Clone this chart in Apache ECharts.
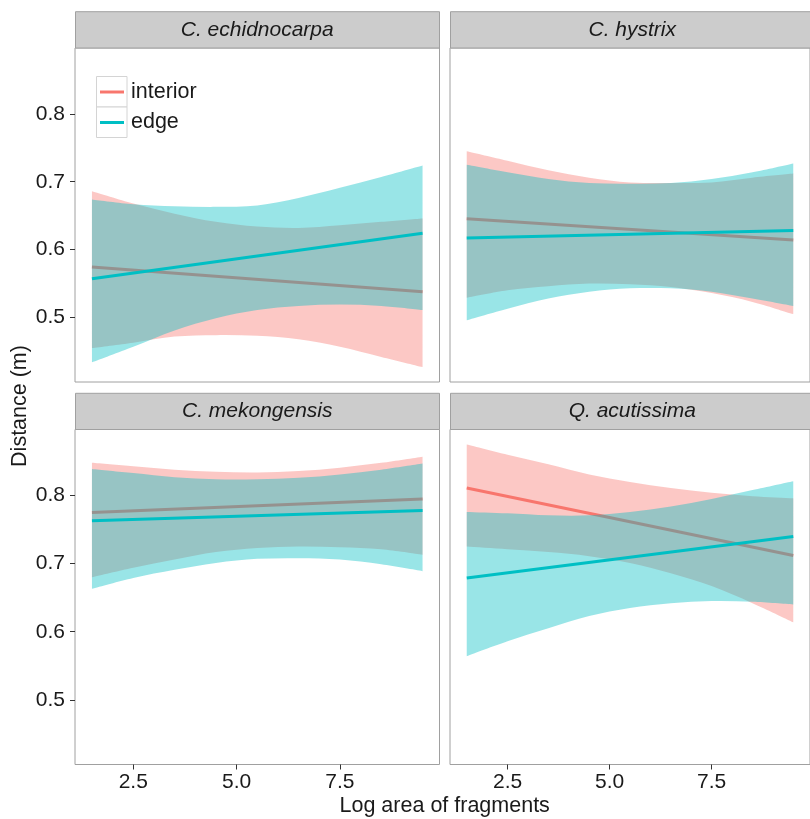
<!DOCTYPE html>
<html>
<head>
<meta charset="utf-8">
<script src="https://cdn.jsdelivr.net/npm/echarts@6/dist/echarts.min.js"></script>
<style>
html,body{margin:0;padding:0;background:#fff;}
#chart{width:810px;height:819px;}
</style>
</head>
<body>
<div id="chart"></div>
<script>
// ---- data ----
const xs = [1.5, 2.5, 3.5, 4.5, 5.5, 6.5, 7.5, 8.5, 9.5];
const fitX = [1.5, 9.5];
const panelNames = ['C. echidnocarpa', 'C. hystrix', 'C. mekongensis', 'Q. acutissima'];
const groupNames = ['interior', 'edge'];
const groupColors = ['#F8766D', '#00BFC4'];
const yTicks = [0.5, 0.6, 0.7, 0.8];
const xTicks = [2.5, 5.0, 7.5];

// C. echidnocarpa
const echInteriorHi = [0.686, 0.668, 0.653, 0.641, 0.634, 0.632, 0.636, 0.641, 0.646];
const echInteriorLo = [0.455, 0.463, 0.472, 0.474, 0.473, 0.468, 0.457, 0.442, 0.427];
const echInteriorFit = [0.5745, 0.538];
const echEdgeHi = [0.674, 0.667, 0.664, 0.663, 0.665, 0.676, 0.691, 0.707, 0.724];
const echEdgeLo = [0.434, 0.457, 0.481, 0.499, 0.511, 0.517, 0.519, 0.517, 0.511];
const echEdgeFit = [0.557, 0.624];

// C. hystrix
const hysInteriorHi = [0.745, 0.731, 0.717, 0.706, 0.699, 0.698, 0.699, 0.706, 0.712];
const hysInteriorLo = [0.529, 0.540, 0.546, 0.550, 0.549, 0.545, 0.536, 0.523, 0.505];
const hysInteriorFit = [0.6455, 0.614];
const hysEdgeHi = [0.725, 0.714, 0.704, 0.698, 0.697, 0.698, 0.704, 0.714, 0.727];
const hysEdgeLo = [0.496, 0.513, 0.528, 0.538, 0.543, 0.543, 0.538, 0.528, 0.517];
const hysEdgeFit = [0.617, 0.628];

// C. mekongensis
const mekInteriorHi = [0.848, 0.843, 0.838, 0.835, 0.834, 0.836, 0.841, 0.848, 0.857];
const mekInteriorLo = [0.680, 0.694, 0.706, 0.717, 0.723, 0.725, 0.724, 0.721, 0.713];
const mekInteriorFit = [0.775, 0.795];
const mekEdgeHi = [0.839, 0.833, 0.827, 0.824, 0.824, 0.826, 0.831, 0.838, 0.847];
const mekEdgeLo = [0.663, 0.679, 0.691, 0.701, 0.707, 0.708, 0.706, 0.699, 0.689];
const mekEdgeFit = [0.763, 0.778];

// Q. acutissima
const acuInteriorHi = [0.875, 0.860, 0.846, 0.831, 0.820, 0.811, 0.804, 0.799, 0.796];
const acuInteriorLo = [0.725, 0.721, 0.717, 0.711, 0.701, 0.686, 0.667, 0.642, 0.614];
const acuInteriorFit = [0.811, 0.712];
const acuEdgeHi = [0.776, 0.774, 0.771, 0.771, 0.776, 0.784, 0.795, 0.808, 0.821];
const acuEdgeLo = [0.564, 0.586, 0.605, 0.623, 0.635, 0.642, 0.645, 0.644, 0.640];
const acuEdgeFit = [0.679, 0.740];

const panels = [
  {lo: [echInteriorLo, echEdgeLo], hi: [echInteriorHi, echEdgeHi], fit: [echInteriorFit, echEdgeFit]},
  {lo: [hysInteriorLo, hysEdgeLo], hi: [hysInteriorHi, hysEdgeHi], fit: [hysInteriorFit, hysEdgeFit]},
  {lo: [mekInteriorLo, mekEdgeLo], hi: [mekInteriorHi, mekEdgeHi], fit: [mekInteriorFit, mekEdgeFit]},
  {lo: [acuInteriorLo, acuEdgeLo], hi: [acuInteriorHi, acuEdgeHi], fit: [acuInteriorFit, acuEdgeFit]}
];

// ---- layout ----
const FONT = "'Liberation Sans', Arial, sans-serif";
const TXT = '#1a1a1a';
const BORDER = '#A0A0A0';
const gridBoxes = [
  {left: 75, top: 48, width: 364.5, height: 334},
  {left: 450, top: 48, width: 364.5, height: 334},
  {left: 75, top: 429.5, width: 364.5, height: 335},
  {left: 450, top: 429.5, width: 364.5, height: 335}
];
const stripBoxes = [
  {x: 75, y: 11.7, h: 36.3},
  {x: 450, y: 11.7, h: 36.3},
  {x: 75, y: 393.3, h: 36.2},
  {x: 450, y: 393.3, h: 36.2}
];

const grids = gridBoxes.map(g => Object.assign({show: true, borderColor: BORDER, borderWidth: 1, backgroundColor: '#fff', containLabel: false}, g));

const xAxes = gridBoxes.map((g, i) => {
  const bottom = i >= 2;
  return {
    gridIndex: i, type: 'value', min: 1.09, max: 9.91,
    axisLine: {show: false}, splitLine: {show: false},
    axisTick: {show: bottom, length: 5, customValues: xTicks, lineStyle: {color: '#333', width: 1}},
    axisLabel: {show: bottom, customValues: xTicks, margin: 7, fontSize: 21, fontFamily: FONT, color: TXT,
      formatter: v => Number(v).toFixed(1)}
  };
});
const yAxes = gridBoxes.map((g, i) => {
  const left = i % 2 === 0;
  return {
    gridIndex: i, type: 'value', min: 0.405, max: 0.897,
    axisLine: {show: false}, splitLine: {show: false},
    axisTick: {show: left, length: 5, customValues: yTicks, lineStyle: {color: '#333', width: 1}},
    axisLabel: {show: left, customValues: yTicks, margin: 10, fontSize: 21, fontFamily: FONT, color: TXT,
      formatter: v => Number(v).toFixed(1)}
  };
});

// smooth path through points (Catmull-Rom -> cubic Bezier)
function smoothSeg(pts, startCmd) {
  let d = (startCmd || 'M') + pts[0][0] + ' ' + pts[0][1];
  for (let i = 0; i < pts.length - 1; i++) {
    const p0 = pts[Math.max(i - 1, 0)], p1 = pts[i], p2 = pts[i + 1], p3 = pts[Math.min(i + 2, pts.length - 1)];
    const c1x = p1[0] + (p2[0] - p0[0]) / 6, c1y = p1[1] + (p2[1] - p0[1]) / 6;
    const c2x = p2[0] - (p3[0] - p1[0]) / 6, c2y = p2[1] - (p3[1] - p1[1]) / 6;
    d += ' C' + c1x + ' ' + c1y + ' ' + c2x + ' ' + c2y + ' ' + p2[0] + ' ' + p2[1];
  }
  return d;
}

const series = [];
panels.forEach((p, pi) => {
  groupNames.forEach((gname, gi) => {
    const lo = p.lo[gi], hi = p.hi[gi], fit = p.fit[gi];
    const zBase = 2 + gi * 3;
    series.push({
      type: 'custom', name: gname + '-band', xAxisIndex: pi, yAxisIndex: pi,
      data: xs.map((x, k) => [x, lo[k], hi[k]]),
      encode: {x: 0, y: [1, 2]},
      z: zBase, silent: true, animation: false,
      renderItem: function (params, api) {
        if (params.dataIndex !== 0) return null;
        const up = xs.map((x, k) => api.coord([x, hi[k]]));
        const dn = xs.map((x, k) => api.coord([x, lo[k]])).reverse();
        const d = smoothSeg(up, 'M') + ' ' + smoothSeg(dn, 'L') + ' Z';
        return {
          type: 'path', shape: {pathData: d},
          style: {fill: groupColors[gi], opacity: 0.4, stroke: null}
        };
      }
    });
    series.push({
      type: 'line', name: gname, xAxisIndex: pi, yAxisIndex: pi,
      data: fitX.map((x, k) => [x, fit[k]]), symbol: 'none', showSymbol: false,
      lineStyle: {color: groupColors[gi], width: 3, cap: 'butt'}, z: zBase + 1, silent: true, animation: false
    });
  });
});

const graphics = [];
stripBoxes.forEach((s, i) => {
  graphics.push({
    type: 'rect', shape: {x: s.x + 0.5, y: s.y, width: 364, height: s.h},
    style: {fill: '#CCCCCC', stroke: BORDER, lineWidth: 1}, z: 10, silent: true
  });
  graphics.push({
    type: 'text', x: s.x + 182.25, y: s.y + s.h / 2,
    style: {text: panelNames[i], fill: TXT, font: 'italic 21px ' + FONT, align: 'center', verticalAlign: 'middle'},
    z: 11, silent: true
  });
});
// legend inside the first panel
groupNames.forEach((gname, gi) => {
  const ky = 76.5 + gi * 30.5;
  graphics.push({
    type: 'rect', shape: {x: 96.5, y: ky, width: 30.5, height: 30.5},
    style: {fill: '#fff', stroke: '#D4D4D4', lineWidth: 1}, z: 20, silent: true
  });
  graphics.push({
    type: 'line', shape: {x1: 100, y1: ky + 15.5, x2: 124, y2: ky + 15.5},
    style: {stroke: groupColors[gi], lineWidth: 3}, z: 21, silent: true
  });
  graphics.push({
    type: 'text', x: 131, y: ky + 15.5,
    style: {text: gname, fill: TXT, font: '21.5px ' + FONT, align: 'left', verticalAlign: 'middle'},
    z: 21, silent: true
  });
});
// axis titles
graphics.push({
  type: 'text', x: 444.7, y: 806,
  style: {text: 'Log area of fragments', fill: TXT, font: '21.5px ' + FONT, align: 'center', verticalAlign: 'middle'},
  z: 21, silent: true
});
graphics.push({
  type: 'text', x: 20.5, y: 406, rotation: Math.PI / 2,
  style: {text: 'Distance (m)', fill: TXT, font: '21.5px ' + FONT, align: 'center', verticalAlign: 'middle'},
  z: 21, silent: true
});

const chart = echarts.init(document.getElementById('chart'), null, {renderer: 'canvas'});
chart.setOption({
  animation: false,
  backgroundColor: '#fff',
  grid: grids,
  xAxis: xAxes,
  yAxis: yAxes,
  series: series,
  graphic: graphics
});
</script>
</body>
</html>
